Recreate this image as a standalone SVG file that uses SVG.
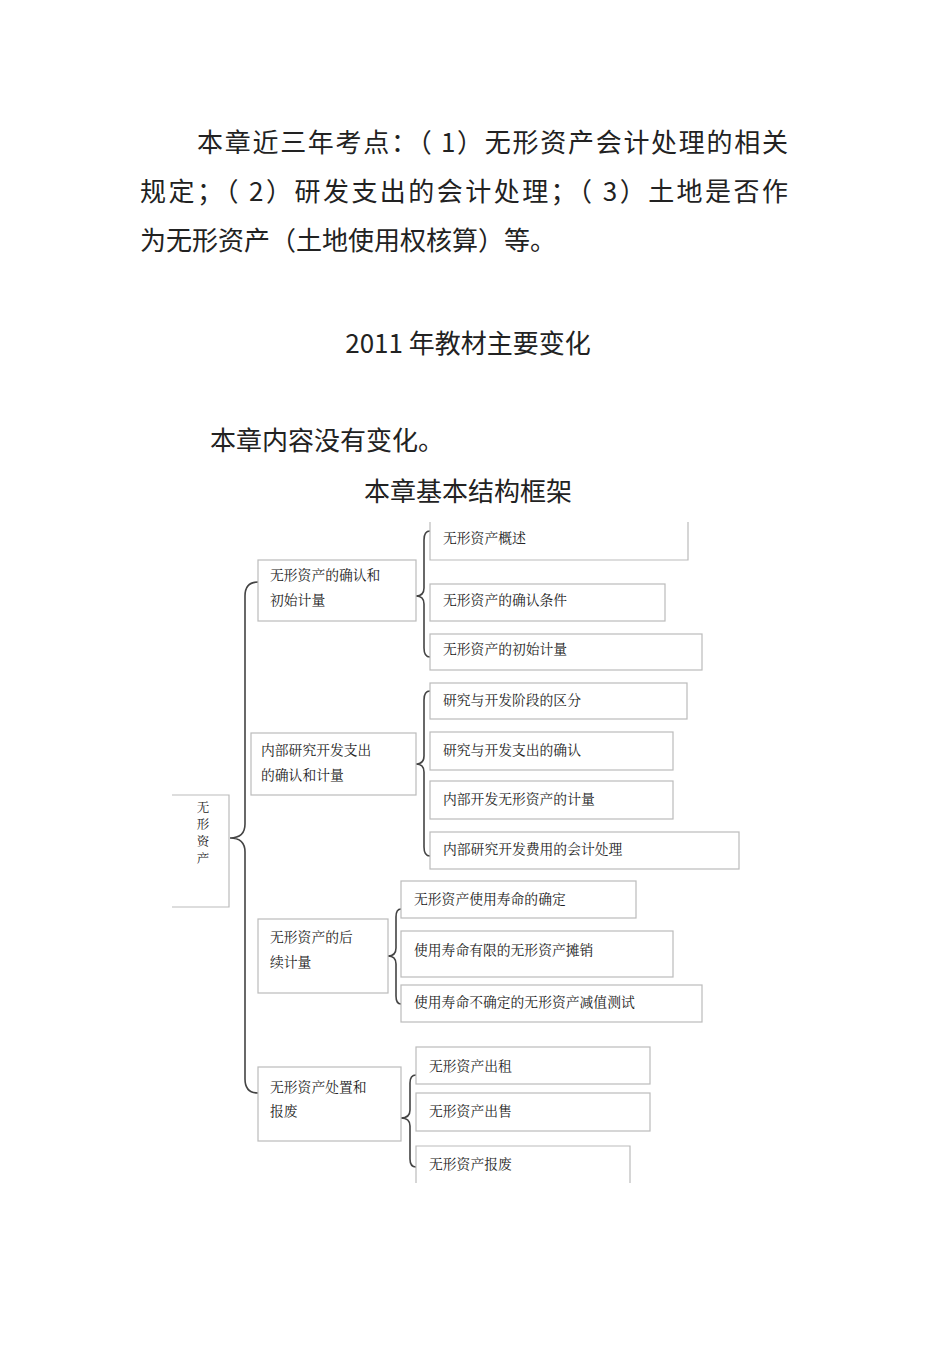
<svg xmlns="http://www.w3.org/2000/svg" width="950" height="1346" viewBox="0 0 950 1346">
<style>
.h{font-family:"Noto Sans CJK SC","Liberation Sans",sans-serif;font-size:26px;fill:#222}
.t{font-family:"Noto Serif CJK SC","Noto Sans CJK SC",serif;font-size:13.8px;fill:#222}
.r{font-family:"Noto Serif CJK SC","Noto Sans CJK SC",serif;font-size:12.5px;fill:#222}
.b{fill:#fff;stroke:#bbb;stroke-width:1.2}
.br{fill:none;stroke:#444;stroke-width:1.6}
</style>
<rect width="950" height="1346" fill="#fff"/>
<text class="h" x="197" y="152" textLength="591" lengthAdjust="spacing">本章近三年考点：（ 1）无形资产会计处理的相关</text>
<text class="h" x="140" y="201" textLength="648" lengthAdjust="spacing">规定；（ 2）研发支出的会计处理；（   3）土地是否作</text>
<text class="h" x="140" y="250">为无形资产（土地使用权核算）等。</text>
<text class="h" x="468" y="353" text-anchor="middle">2011 年教材主要变化</text>
<text class="h" x="210" y="450">本章内容没有变化。</text>
<text class="h" x="468" y="501" text-anchor="middle" font-size="25">本章基本结构框架</text>

<g id="connectors">
<path class="br" d="M258,582 Q245,582 245,596 L245,824 Q245,838 230,838 Q245,838 245,852 L245,1079 Q245,1093 258,1093"/>
<path class="br" d="M430,531 Q424,531 424,540 L424,588 Q424,596 416,596 Q424,596 424,604 L424,648 Q424,657 430,657"/>
<path class="br" d="M430,691 Q424,691 424,700 L424,756 Q424,764 416,764 Q424,764 424,772 L424,847 Q424,856 430,856"/>
<path class="br" d="M401,909 Q396,909 396,917 L396,948 Q396,956 388,956 Q396,956 396,964 L396,996 Q396,1004 401,1004"/>
<path class="br" d="M416,1075 Q410,1075 410,1083 L410,1110 Q410,1118 401,1118 Q410,1118 410,1126 L410,1159 Q410,1167 416,1167"/>
</g>

<g id="root"><path class="b" d="M172,795 L229,795 L229,907 L172,907"/>
<text class="r" x="203" y="812" text-anchor="middle">无</text><text class="r" x="203" y="829" text-anchor="middle">形</text><text class="r" x="203" y="846" text-anchor="middle">资</text><text class="r" x="203" y="863" text-anchor="middle">产</text></g>

<g id="A"><rect class="b" x="258" y="560" width="158" height="61"/><text class="t" x="270" y="580">无形资产的确认和</text><text class="t" x="270" y="605">初始计量</text></g>
<g id="B"><rect class="b" x="251" y="733" width="165" height="62"/><text class="t" x="261" y="755">内部研究开发支出</text><text class="t" x="261" y="780">的确认和计量</text></g>
<g id="C"><rect class="b" x="258" y="919" width="130" height="74"/><text class="t" x="270" y="942">无形资产的后</text><text class="t" x="270" y="967">续计量</text></g>
<g id="D"><rect class="b" x="258" y="1067" width="143" height="74"/><text class="t" x="270" y="1092">无形资产处置和</text><text class="t" x="270" y="1116">报废</text></g>

<g id="A1"><path class="b" d="M430,522 L430,560 L688,560 L688,522"/><text class="t" x="443" y="543">无形资产概述</text></g>
<g id="A2"><rect class="b" x="430" y="584" width="235" height="37"/><text class="t" x="443" y="605">无形资产的确认条件</text></g>
<g id="A3"><rect class="b" x="430" y="634" width="272" height="36"/><text class="t" x="443" y="654">无形资产的初始计量</text></g>
<g id="B1"><rect class="b" x="430" y="683" width="257" height="36"/><text class="t" x="443" y="705">研究与开发阶段的区分</text></g>
<g id="B2"><rect class="b" x="430" y="732" width="243" height="38"/><text class="t" x="443" y="755">研究与开发支出的确认</text></g>
<g id="B3"><rect class="b" x="430" y="781" width="243" height="38"/><text class="t" x="443" y="804">内部开发无形资产的计量</text></g>
<g id="B4"><rect class="b" x="430" y="832" width="309" height="37"/><text class="t" x="443" y="854">内部研究开发费用的会计处理</text></g>
<g id="C1"><rect class="b" x="401" y="881" width="235" height="37"/><text class="t" x="414" y="904">无形资产使用寿命的确定</text></g>
<g id="C2"><rect class="b" x="401" y="931" width="272" height="46"/><text class="t" x="414" y="955">使用寿命有限的无形资产摊销</text></g>
<g id="C3"><rect class="b" x="401" y="985" width="301" height="37"/><text class="t" x="414" y="1007">使用寿命不确定的无形资产减值测试</text></g>
<g id="D1"><rect class="b" x="416" y="1047" width="234" height="37"/><text class="t" x="429" y="1071">无形资产出租</text></g>
<g id="D2"><rect class="b" x="416" y="1093" width="234" height="38"/><text class="t" x="429" y="1116">无形资产出售</text></g>
<g id="D3"><path class="b" d="M416,1183 L416,1146 L630,1146 L630,1183"/><text class="t" x="429" y="1169">无形资产报废</text></g>
</svg>
